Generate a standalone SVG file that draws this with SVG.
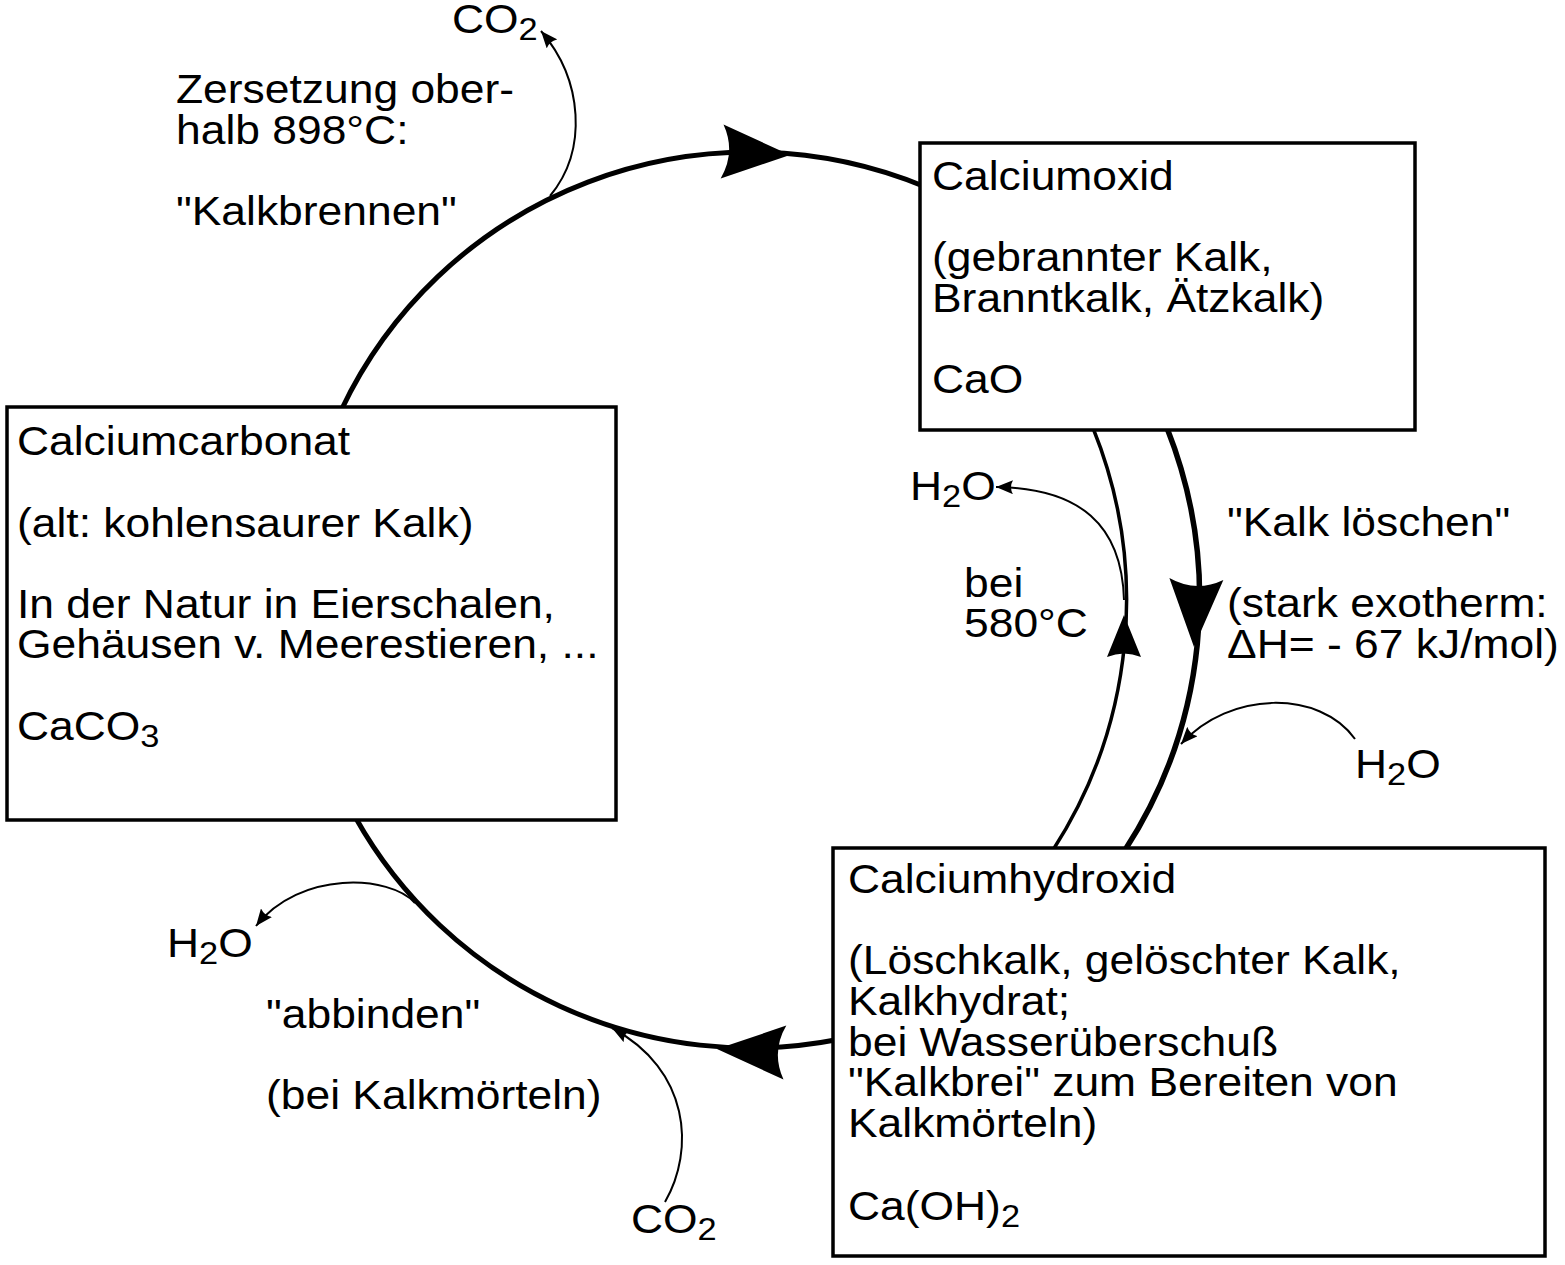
<svg xmlns="http://www.w3.org/2000/svg" xmlns:xlink="http://www.w3.org/1999/xlink" width="1565" height="1265" viewBox="0 0 1565 1265">
<style>
  .t { font-family: "Liberation Sans", Arial, sans-serif; font-size: 40px; fill: #000; }
  .box { fill: #fff; stroke: #000; stroke-width: 3.5; }
  .big { fill: none; stroke: #000; stroke-width: 5; }
  .thin { fill: none; stroke: #000; stroke-width: 3.5; }
  .thick { fill: none; stroke: #000; stroke-width: 5.5; }
  .small { fill: none; stroke: #000; stroke-width: 2; marker-end: url(#sa); }
</style>
<defs>
  <path id="bigHead" d="M0 0 L-68 -27 Q-54 0 -68 27 Z" fill="#000"/>
  <path id="midHead" d="M0 0 L-42 -17 Q-35 0 -42 17 Z" fill="#000"/>
  <marker id="sa" viewBox="0 0 18 14" refX="17" refY="7" markerWidth="18" markerHeight="14" markerUnits="userSpaceOnUse" orient="auto">
    <path d="M17 7 L0 0 Q4 7 0 14 Z" fill="#000"/>
  </marker>
</defs>
<rect width="1565" height="1265" fill="#fff"/>

<g id="connectors">
  <path class="big" d="M341.3 410 A452 448 0 0 1 925 186.7"/>
  <path class="big" d="M838 1039.5 A452 448 0 0 1 355.2 817"/>
  <path class="thin" d="M1093 428 A460 460 0 0 1 1053 850"/>
  <path class="thick" d="M1167 428 A462 462 0 0 1 1125 850"/>
  <use xlink:href="#bigHead" transform="translate(790,155) rotate(3)"/>
  <use xlink:href="#bigHead" transform="translate(717,1049) rotate(183)"/>
  <use xlink:href="#bigHead" transform="translate(1194,647) rotate(92)"/>
  <use xlink:href="#midHead" transform="translate(1124,615) rotate(-90)"/>
  <path class="small" d="M550 196 C588 150 583 80 541 31"/>
  <path class="small" d="M1124 600 C1122 525 1080 488 996 487"/>
  <path class="small" d="M1355 739 C1320 690 1230 690 1181 744"/>
  <path class="small" d="M415 903 C390 875 300 870 256 926"/>
  <path class="small" d="M665 1202 C695 1150 690 1070 612 1028"/>
</g>

<g id="node-calciumcarbonat">
  <rect class="box" x="7" y="407" width="609" height="413"/>
  <text class="t" transform="translate(17,0) scale(1.11,1)">
    <tspan x="0" y="455">Calciumcarbonat</tspan>
    <tspan x="0" y="537">(alt: kohlensaurer Kalk)</tspan>
    <tspan x="0" y="618">In der Natur in Eierschalen,</tspan>
    <tspan x="0" y="658">Gehäusen v. Meerestieren, ...</tspan>
    <tspan x="0" y="740">CaCO<tspan font-size="31" dy="7">3</tspan></tspan>
  </text>
</g>

<g id="node-calciumoxid">
  <rect class="box" x="920" y="143" width="495" height="287"/>
  <text class="t" transform="translate(932,0) scale(1.11,1)">
    <tspan x="0" y="190">Calciumoxid</tspan>
    <tspan x="0" y="271">(gebrannter Kalk,</tspan>
    <tspan x="0" y="312">Branntkalk, Ätzkalk)</tspan>
    <tspan x="0" y="393">CaO</tspan>
  </text>
</g>

<g id="node-calciumhydroxid">
  <rect class="box" x="833" y="848" width="712" height="408"/>
  <text class="t" transform="translate(848,0) scale(1.11,1)">
    <tspan x="0" y="893">Calciumhydroxid</tspan>
    <tspan x="0" y="974">(Löschkalk, gelöschter Kalk,</tspan>
    <tspan x="0" y="1015">Kalkhydrat;</tspan>
    <tspan x="0" y="1056">bei Wasserüberschuß</tspan>
    <tspan x="0" y="1096">"Kalkbrei" zum Bereiten von</tspan>
    <tspan x="0" y="1137">Kalkmörteln)</tspan>
    <tspan x="0" y="1220">Ca(OH)<tspan font-size="31" dy="7">2</tspan></tspan>
  </text>
</g>

<g id="label-kalkbrennen">
  <text class="t" transform="translate(176,0) scale(1.11,1)">
    <tspan x="0" y="103">Zersetzung ober-</tspan>
    <tspan x="0" y="144">halb 898°C:</tspan>
    <tspan x="0" y="225">"Kalkbrennen"</tspan>
  </text>
</g>

<g id="label-co2-top">
  <text class="t" transform="translate(452,0) scale(1.11,1)"><tspan x="0" y="33">CO</tspan><tspan font-size="31" dy="7">2</tspan></text>
</g>

<g id="label-kalkloeschen">
  <text class="t" transform="translate(1227,0) scale(1.11,1)">
    <tspan x="0" y="536">"Kalk löschen"</tspan>
    <tspan x="0" y="617">(stark exotherm:</tspan>
    <tspan x="0" y="658">ΔH= - 67 kJ/mol)</tspan>
  </text>
</g>

<g id="label-580">
  <text class="t" transform="translate(964,0) scale(1.11,1)">
    <tspan x="0" y="597">bei</tspan>
    <tspan x="0" y="637">580°C</tspan>
  </text>
</g>

<g id="label-h2o-upper">
  <text class="t" transform="translate(910,0) scale(1.11,1)"><tspan x="0" y="500">H</tspan><tspan font-size="31" dy="7">2</tspan><tspan dy="-7">O</tspan></text>
</g>

<g id="label-h2o-right">
  <text class="t" transform="translate(1355,0) scale(1.11,1)"><tspan x="0" y="778">H</tspan><tspan font-size="31" dy="7">2</tspan><tspan dy="-7">O</tspan></text>
</g>

<g id="label-h2o-left">
  <text class="t" transform="translate(167,0) scale(1.11,1)"><tspan x="0" y="957">H</tspan><tspan font-size="31" dy="7">2</tspan><tspan dy="-7">O</tspan></text>
</g>

<g id="label-abbinden">
  <text class="t" transform="translate(266,0) scale(1.11,1)">
    <tspan x="0" y="1028">"abbinden"</tspan>
    <tspan x="0" y="1109">(bei Kalkmörteln)</tspan>
  </text>
</g>

<g id="label-co2-bottom">
  <text class="t" transform="translate(631,0) scale(1.11,1)"><tspan x="0" y="1233">CO</tspan><tspan font-size="31" dy="7">2</tspan></text>
</g>
</svg>
